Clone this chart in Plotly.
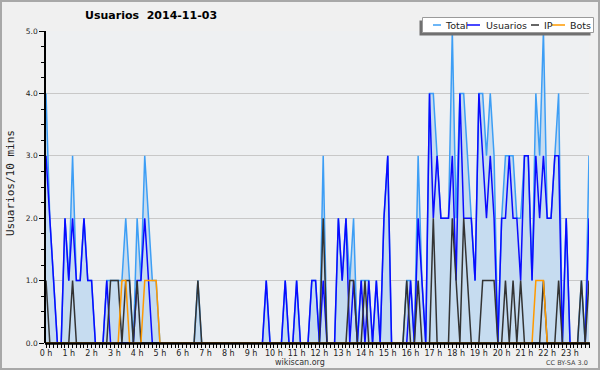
import plotly.graph_objects as go

# ---- data (10-minute slots, 144 per day) ----
hour_labels = [f"{h} h" for h in range(24)]
hour_slots = [h * 6 for h in range(24)]
y_tick_vals = [0, 1, 2, 3, 4, 5]
y_tick_text = ["0.0", "1.0", "2.0", "3.0", "4.0", "5.0"]
slots = list(range(144))

usuarios = [
    3, 2, 1, 0, 0, 2, 1, 2, 1, 1, 2, 1,
    1, 0, 0, 0, 1, 0, 0, 0, 0, 0, 0, 0,
    1, 1, 2, 1, 0, 0, 0, 0, 0, 0, 0, 0,
    0, 0, 0, 0, 0, 0, 0, 0, 0, 0, 0, 0,
    0, 0, 0, 0, 0, 0, 0, 0, 0, 0, 1, 0,
    0, 0, 0, 1, 0, 0, 1, 0, 0, 0, 1, 1,
    0, 1, 0, 0, 0, 2, 1, 2, 0, 1, 0, 1,
    0, 1, 0, 1, 0, 2, 3, 0, 0, 0, 0, 0,
    1, 0, 2, 1, 0, 4, 2, 3, 2, 2, 2, 3,
    1, 4, 2, 2, 2, 1, 4, 3, 2, 3, 2, 0,
    2, 2, 3, 2, 2, 1, 3, 3, 1, 3, 2, 3,
    2, 2, 3, 3, 0, 2, 0, 0, 0, 0, 0, 2,
]
ip = [
    1, 0, 0, 0, 0, 0, 0, 1, 0, 0, 0, 0,
    0, 0, 0, 0, 0, 1, 1, 1, 0, 1, 1, 0,
    1, 0, 0, 0, 0, 0, 0, 0, 0, 0, 0, 0,
    0, 0, 0, 0, 1, 0, 0, 0, 0, 0, 0, 0,
    0, 0, 0, 0, 0, 0, 0, 0, 0, 0, 0, 0,
    0, 0, 0, 0, 0, 0, 0, 0, 0, 0, 0, 0,
    0, 2, 0, 0, 0, 0, 0, 0, 1, 1, 0, 0,
    1, 0, 0, 0, 0, 0, 0, 0, 0, 0, 0, 1,
    0, 0, 1, 0, 0, 0, 2, 0, 0, 0, 0, 2,
    1, 0, 2, 1, 0, 0, 0, 1, 1, 1, 1, 0,
    0, 1, 0, 1, 0, 1, 0, 0, 0, 0, 0, 1,
    0, 0, 0, 1, 0, 0, 0, 0, 0, 1, 0, 1,
]
bots = [
    0, 0, 0, 0, 0, 0, 0, 0, 0, 0, 0, 0,
    0, 0, 0, 0, 0, 0, 0, 0, 1, 1, 0, 0,
    0, 0, 1, 1, 1, 1, 0, 0, 0, 0, 0, 0,
    0, 0, 0, 0, 0, 0, 0, 0, 0, 0, 0, 0,
    0, 0, 0, 0, 0, 0, 0, 0, 0, 0, 0, 0,
    0, 0, 0, 0, 0, 0, 0, 0, 0, 0, 0, 0,
    0, 0, 0, 0, 0, 0, 0, 0, 0, 0, 0, 0,
    0, 0, 0, 0, 0, 0, 0, 0, 0, 0, 0, 0,
    0, 0, 0, 0, 0, 0, 0, 0, 0, 0, 0, 0,
    0, 0, 0, 0, 0, 0, 0, 0, 0, 0, 0, 0,
    0, 0, 0, 0, 0, 0, 0, 0, 0, 1, 1, 1,
    0, 0, 0, 0, 0, 0, 0, 0, 0, 0, 0, 0,
]
total = [
    4, 2, 1, 0, 0, 2, 1, 3, 1, 1, 2, 1,
    1, 0, 0, 0, 1, 1, 1, 1, 1, 2, 1, 0,
    2, 1, 3, 2, 1, 1, 0, 0, 0, 0, 0, 0,
    0, 0, 0, 0, 1, 0, 0, 0, 0, 0, 0, 0,
    0, 0, 0, 0, 0, 0, 0, 0, 0, 0, 1, 0,
    0, 0, 0, 1, 0, 0, 1, 0, 0, 0, 1, 1,
    0, 3, 0, 0, 0, 2, 1, 2, 1, 2, 0, 1,
    1, 1, 0, 1, 0, 2, 3, 0, 0, 0, 0, 1,
    1, 0, 3, 1, 0, 4, 4, 3, 2, 2, 2, 5,
    2, 4, 4, 3, 2, 1, 4, 4, 3, 4, 3, 0,
    2, 3, 3, 3, 2, 2, 3, 3, 1, 4, 3, 5,
    2, 2, 3, 4, 0, 2, 0, 0, 0, 1, 0, 3,
]

series_names = ["Total", "Usuarios", "IP", "Bots"]
series_colors = ["#3d9ef5", "#0a0aff", "#333333", "#ff9a00"]

# ---- layout geometry ----
W, H = 600, 370
ML, MR, MT, MB = 46, 11, 31, 27
PW, PH = W - ML - MR, H - MT - MB


def px(x):
    return (x - ML) / PW


def py(y):
    return (H - MB - y) / PH


fig = go.Figure()
fig.add_trace(go.Scatter(
    x=slots, y=total, name=series_names[0], mode="lines",
    line=dict(color=series_colors[0], width=1.5),
    fill="tozeroy", fillcolor="#c6dcf0",
))
for name, data, col in zip(series_names[1:], [usuarios, ip, bots], series_colors[1:]):
    fig.add_trace(go.Scatter(
        x=slots, y=data, name=name, mode="lines",
        line=dict(color=col, width=1.5),
    ))

tick_font = dict(family="DejaVu Sans", size=8, color="#222")

fig.update_layout(
    width=W, height=H,
    margin=dict(l=ML, r=MR, t=MT, b=MB, pad=0),
    paper_bgcolor="#f0f0f0",
    plot_bgcolor="#eef0f2",
    showlegend=False,
    xaxis=dict(
        range=[0, 143], tickmode="array", tickvals=hour_slots, ticktext=hour_labels,
        ticks="outside", ticklen=4, tickwidth=1, tickcolor="black",
        ticklabelstandoff=-2,
        showline=False,
        showgrid=False, zeroline=False, tickfont=tick_font,
        minor=dict(tickmode="linear", tick0=0, dtick=1, ticks="outside",
                   ticklen=4, tickwidth=1, tickcolor="black", showgrid=False),
    ),
    yaxis=dict(
        range=[0, 5], tickmode="array", tickvals=y_tick_vals, ticktext=y_tick_text,
        ticks="outside", ticklen=5, tickwidth=1, tickcolor="black",
        showline=True, linecolor="black", linewidth=1.5,
        showgrid=True, gridcolor="#c8c8c8", gridwidth=1, zeroline=False,
        tickfont=dict(family="DejaVu Sans", size=7.5, color="#222"),
        minor=dict(tickmode="linear", tick0=0, dtick=0.25, ticks="outside",
                   ticklen=3, tickwidth=1, tickcolor="black", showgrid=False),
    ),
)

shapes = []
annotations = []

# x axis baseline drawn above the traces (hides zero-valued segments)
shapes.append(dict(type="line", xref="paper", yref="paper", layer="above",
                   x0=px(45), x1=px(590), y0=py(343.5), y1=py(343.5),
                   line=dict(color="black", width=2.5)))

# outer frame
shapes.append(dict(type="rect", xref="paper", yref="paper",
                   x0=px(1), x1=px(599), y0=py(369), y1=py(1),
                   line=dict(color="#a8a8a8", width=2), fillcolor="rgba(0,0,0,0)"))

# custom legend box with shadow
shapes.append(dict(type="rect", xref="paper", yref="paper",
                   x0=px(419.5), x1=px(590.5), y0=py(35.5), y1=py(20.5),
                   line=dict(width=0), fillcolor="#707070"))
shapes.append(dict(type="rect", xref="paper", yref="paper",
                   x0=px(422.5), x1=px(593.5), y0=py(32.5), y1=py(17.5),
                   line=dict(color="#9a9a9a", width=1), fillcolor="white"))
legend_lines = [(433, 441), (467, 480), (531, 539), (552, 565)]
legend_text_x = [443, 484, 542, 568]
for (a, b), tx, name, col in zip(legend_lines, legend_text_x, series_names, series_colors):
    shapes.append(dict(type="line", xref="paper", yref="paper",
                       x0=px(a), x1=px(b), y0=py(25), y1=py(25),
                       line=dict(color=col, width=1.5)))
    annotations.append(dict(xref="paper", yref="paper", x=px(tx), y=py(25),
                            xanchor="left", yanchor="middle", showarrow=False,
                            text=name, font=dict(family="DejaVu Sans", size=9.5, color="#222")))

# title
annotations.append(dict(xref="paper", yref="paper", x=px(151), y=py(16),
                        xanchor="center", yanchor="middle", showarrow=False,
                        text="<b>Usuarios\u00a0\u00a02014-11-03</b>",
                        font=dict(family="DejaVu Sans", size=11, color="black")))
# y axis title
annotations.append(dict(xref="paper", yref="paper", x=px(10), y=py(183),
                        xanchor="center", yanchor="middle", showarrow=False,
                        textangle=-90, text="Usuarios/10 mins",
                        font=dict(family="DejaVu Sans Mono", size=11, color="#222")))
# footer
annotations.append(dict(xref="paper", yref="paper", x=px(300), y=py(362),
                        xanchor="center", yanchor="middle", showarrow=False,
                        text="wikiscan.org", borderpad=0,
                        font=dict(family="DejaVu Sans", size=8, color="#333")))
annotations.append(dict(xref="paper", yref="paper", x=px(589), y=py(363),
                        xanchor="right", yanchor="middle", showarrow=False,
                        text="CC BY-SA 3.0", borderpad=0,
                        font=dict(family="DejaVu Sans", size=6.5, color="#444")))

fig.update_layout(shapes=shapes, annotations=annotations)
fig.write_html("out.html", config={"displayModeBar": False},
               post_script="document.body.style.margin='0';")
